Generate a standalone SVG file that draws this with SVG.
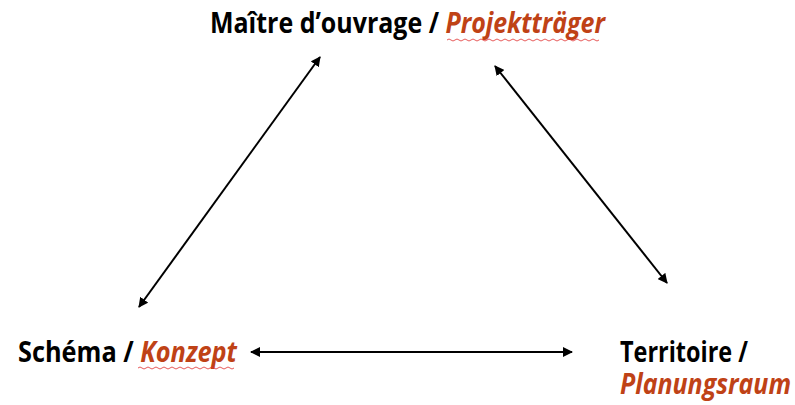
<svg xmlns="http://www.w3.org/2000/svg" width="795" height="405" viewBox="0 0 795 405">
<style>
.t{font-family:"Open Sans","Liberation Sans",sans-serif;font-weight:bold;font-size:28px;fill:#000}
.de{fill:#BF4216;font-style:italic}
.sq{fill:none;stroke:#E03030;stroke-width:0.8}
.c{stroke:#000;stroke-width:2;fill:none;marker-start:url(#a);marker-end:url(#a)}
</style>
<defs>
<marker id="a" viewBox="0 0 10 10" refX="9" refY="5" markerWidth="5" markerHeight="5" orient="auto-start-reverse" markerUnits="strokeWidth">
<path d="M0,0 L10,5 L0,10 z" fill="#000"/>
</marker>
</defs>
<rect width="795" height="405" fill="#fff"/>
<g id="connectors">
<line class="c" x1="139" y1="307" x2="320" y2="57"/>
<line class="c" x1="495" y1="66" x2="667" y2="283"/>
<line class="c" x1="251" y1="352" x2="572" y2="352"/>
</g>
<g id="node-maitre">
<text class="t" x="210" y="33" textLength="395" lengthAdjust="spacingAndGlyphs">Maître d’ouvrage / <tspan class="de">Projektträger</tspan></text>
<path class="sq" d="M447,40 q2,-2 4,0 t4,0 t4,0 t4,0 t4,0 t4,0 t4,0 t4,0 t4,0 t4,0 t4,0 t4,0 t4,0 t4,0 t4,0 t4,0 t4,0 t4,0 t4,0 t4,0 t4,0 t4,0 t4,0 t4,0 t4,0 t4,0 t4,0 t4,0 t4,0 t4,0 t4,0 t4,0 t4,0 t4,0 t4,0 t4,0 t4,0 t4,0"/>
</g>
<g id="node-schema">
<text class="t" x="18" y="362" textLength="219" lengthAdjust="spacingAndGlyphs">Schéma / <tspan class="de">Konzept</tspan></text>
<path class="sq" d="M138,368 q2,-2 4,0 t4,0 t4,0 t4,0 t4,0 t4,0 t4,0 t4,0 t4,0 t4,0 t4,0 t4,0 t4,0 t4,0 t4,0 t4,0 t4,0 t4,0 t4,0 t4,0 t4,0 t4,0 t4,0 t4,0"/>
</g>
<g id="node-territoire">
<text class="t" x="620" y="362" textLength="128" lengthAdjust="spacingAndGlyphs">Territoire /</text>
<text class="t de" x="620" y="394" textLength="171" lengthAdjust="spacingAndGlyphs">Planungsraum</text>
</g>
</svg>
